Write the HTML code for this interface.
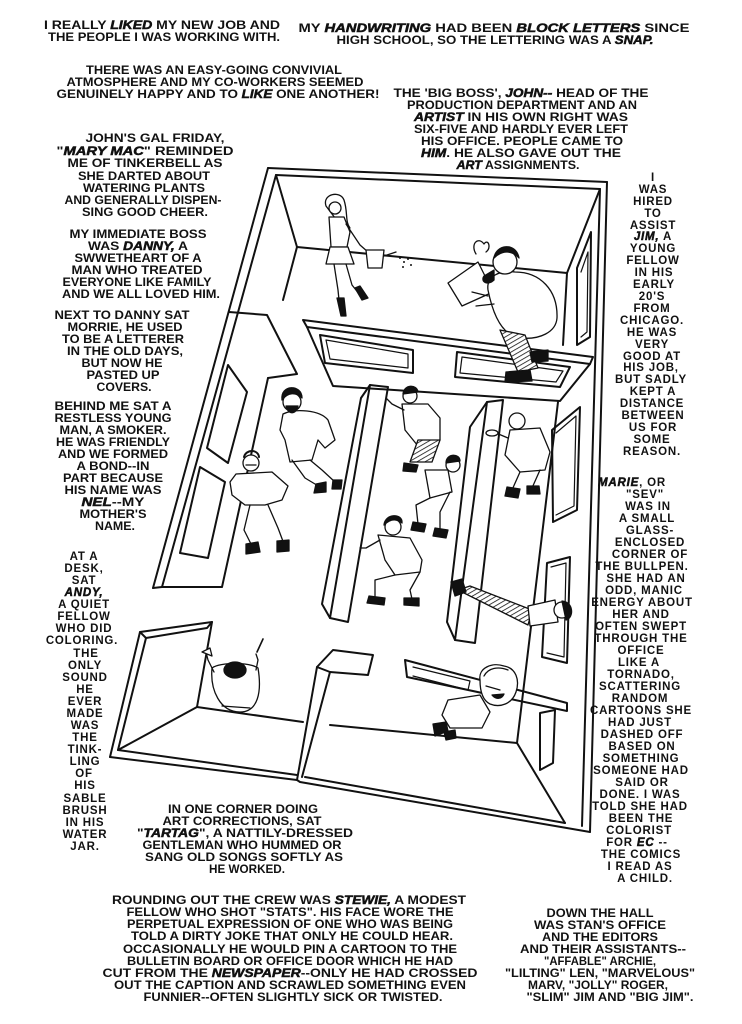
<!DOCTYPE html>
<html><head><meta charset="utf-8"><style>
html,body{margin:0;padding:0;background:#fff;}
svg{display:block;}
text{font-family:"Liberation Sans",Arial,sans-serif;font-weight:700;font-size:11.5px;fill:#111;}
.e{font-style:italic;font-weight:900;stroke:#111;stroke-width:.5;}
.c text{letter-spacing:0.8px;}
</style></head><body>
<svg xmlns="http://www.w3.org/2000/svg" width="742" height="1024" viewBox="0 0 742 1024">
<defs>
<pattern id="h" width="4" height="4" patternUnits="userSpaceOnUse" patternTransform="rotate(60)"><rect width="4" height="4" fill="#fff"/><line x1="0" y1="0" x2="0" y2="4" stroke="#111" stroke-width="1.6"/></pattern>
</defs>
<rect width="742" height="1024" fill="#fff"/>

<!-- WALLS -->
<g fill="none" stroke="#111" stroke-width="2" stroke-linejoin="round" stroke-linecap="round">
<path d="M268,168 L607,182"/>
<path d="M276,175 L600,189"/>
<path d="M268,168 L153,588"/>
<path d="M276,175 L162,587"/>
<path d="M229,312 L267,315 L297,374 L268,378"/>
<path d="M268,378 L222,587 L162,587"/>
<path d="M153,588 L162,587"/>
<path d="M228,365 L247,392 L228,463 L207,448 Z"/>
<path d="M200,467 L225,482 L208,558 L180,553 Z"/>
<path d="M276,175 L297,247"/>
<path d="M297,247 L283,300"/>
<path d="M297,247 L567,273"/>
<path d="M600,189 L567,273"/>
<path d="M607,182 L590,832"/>
<path d="M600,189 L582,826"/>
<path d="M567,273 L563,345"/>
<path d="M577,268 L591,232 L590,337 L577,345 Z"/>
<path d="M581,272 L588,252 L587,332 L581,337" stroke-width="1.2"/>
<path d="M303,320 L593,357 L590,364 L307,327 Z"/>
<path d="M307,327 L333,386 L560,401 L590,364"/>
<path d="M320,335 L413,350 L413,373 L325,363 Z"/>
<path d="M326,340 L408,354 L408,368 L330,359 Z" stroke-width="1.2"/>
<path d="M457,352 L570,367 L560,387 L455,377 Z"/>
<path d="M462,357 L563,371 L556,382 L460,373 Z" stroke-width="1.2"/>
<path d="M370,385 L388,387 L348,622 L330,618 Z"/>
<path d="M370,385 L361,398 L322,604 L330,618"/>
<path d="M487,402 L503,400 L475,643 L455,640 Z"/>
<path d="M487,402 L470,427 L447,622 L455,640"/>
<path d="M558,402 L517,743"/>
<path d="M552,430 L580,407 L577,510 L553,522 Z"/>
<path d="M556,433 L576,416 L574,506 L556,515" stroke-width="1.2"/>
<path d="M547,563 L570,557 L567,663 L542,657 Z"/>
<path d="M551,567 L566,563 L564,657 L547,653" stroke-width="1.2"/>
<path d="M405,660 L567,703 L567,711 L407,677 Z"/>
<path d="M413,667 L470,681 L468,690 L413,676" stroke-width="1.2"/>
<path d="M140,632 L212,622 L207,628 L146,638 Z"/>
<path d="M212,622 L197,707"/>
<path d="M140,632 L110,757"/>
<path d="M146,638 L118,750"/>
<path d="M197,707 L118,750"/>
<path d="M197,707 L303,722"/>
<path d="M110,757 L297,780 L300,782 L590,832"/>
<path d="M118,750 L297,775"/>
<path d="M305,777 L565,823"/>
<path d="M317,667 L333,650 L373,655 L368,675 L330,672 Z"/>
<path d="M317,667 L297,780"/>
<path d="M330,672 L302,777"/>
<path d="M330,725 L517,743"/>
<path d="M517,743 L565,823"/>
<path d="M540,713 L555,710 L553,763 L540,770 Z"/>
</g>

<!-- FIGURES -->
<g stroke="#111" stroke-width="1.3" stroke-linejoin="round" stroke-linecap="round" fill="none">
<!-- Mary Mac -->
<path d="M326,206 C322,194 340,190 344,200 C348,212 345,222 350,228 L338,222 Z" fill="#fff"/>
<circle cx="335" cy="208" r="6" fill="#fff"/>
<path d="M329,217 L344,217 L350,232 L347,247 L331,247 L330,232 Z" fill="#fff"/>
<path d="M330,247 L348,247 L354,264 L326,264 Z" fill="#fff"/>
<path d="M334,264 L338,290 L340,310 M346,264 L352,285 L360,295"/>
<path d="M337,298 L341,316 L346,316 L344,298 Z" fill="#111"/>
<path d="M355,288 L362,300 L368,298 L360,286 Z" fill="#111"/>
<path d="M346,224 L360,245 L368,252"/>
<path d="M366,250 L384,250 L382,268 L368,268 Z" fill="#fff"/>
<path d="M384,256 L396,252"/>
<g fill="#111" stroke="none"><circle cx="400" cy="258" r="1"/><circle cx="404" cy="262" r="1"/><circle cx="408" cy="259" r="1"/><circle cx="411" cy="265" r="1"/><circle cx="403" cy="267" r="1"/></g>
<!-- John -->
<path d="M476,254 C470,244 478,236 484,244 C488,238 492,248 486,252"/>
<path d="M448,283 L478,262 L493,292 L462,306 Z" fill="#fff"/>
<path d="M488,290 C486,276 500,270 515,272 C540,272 558,290 557,318 C556,332 540,340 520,338 C505,336 494,320 488,290 Z" fill="#fff"/>
<circle cx="505" cy="262" r="12" fill="#fff"/>
<path d="M494,258 C496,244 516,242 519,258 C512,250 502,250 494,258 Z" fill="#111"/>
<path d="M494,270 L484,276 C480,282 488,286 494,280 Z" fill="#111"/>
<path d="M488,296 L472,292 M494,304 L476,306"/>
<path d="M500,330 L525,335 L538,368 L518,372 Z" fill="url(#h)"/>
<path d="M506,372 L530,370 L532,381 L505,382 Z" fill="#111"/>
<path d="M530,352 L548,350 L548,361 L532,362 Z" fill="#111"/>
<!-- bearded man -->
<path d="M283,414 C295,408 320,410 328,420 L335,440 L325,448 L318,440 L312,460 L290,462 L285,440 L280,430 Z" fill="#fff"/>
<circle cx="292" cy="402" r="9" fill="#fff"/>
<path d="M282,400 C280,384 302,384 302,398 C296,392 288,392 282,400 Z" fill="#111"/>
<path d="M286,406 C288,415 296,415 298,406 Z" fill="#111"/>
<path d="M292,460 L305,478 L320,487 M310,460 L322,470 L335,482"/>
<path d="M316,484 L326,482 L326,492 L314,493 Z" fill="#111"/>
<path d="M333,480 L342,480 L341,489 L332,489 Z" fill="#111"/>
<!-- Morrie -->
<path d="M236,474 L272,472 L288,486 L282,500 L265,505 L245,505 L232,495 L230,482 Z" fill="#fff"/>
<circle cx="251" cy="463" r="8" fill="#fff"/>
<path d="M244,457 C246,449 258,449 259,457" stroke-width="2"/>
<path d="M246,465 L256,465"/>
<path d="M250,505 L244,530 L252,546 M268,505 L278,528 L284,544"/>
<path d="M246,544 L258,542 L260,552 L246,554 Z" fill="#111"/>
<path d="M277,541 L289,540 L289,551 L277,552 Z" fill="#111"/>
<!-- mid fig 1 -->
<path d="M402,404 L428,404 L440,418 L440,440 L418,446 L405,430 Z" fill="#fff"/>
<path d="M418,440 L440,440 L432,462 L410,462 Z" fill="url(#h)"/>
<circle cx="410" cy="396" r="7" fill="#fff"/>
<path d="M403,394 C404,384 417,384 418,392 Z" fill="#111"/>
<path d="M404,410 L392,404 L386,398"/>
<path d="M404,463 L418,465 L416,472 L403,471 Z" fill="#111"/>
<!-- mid fig 2 -->
<path d="M425,470 L448,470 L452,492 L430,498 Z" fill="#fff"/>
<circle cx="453" cy="465" r="7" fill="#fff"/>
<path d="M446,463 C446,453 460,453 460,461 Z" fill="#111"/>
<path d="M430,498 L416,505 L418,524 M450,492 L440,512 L440,529"/>
<path d="M413,522 L426,524 L424,532 L411,530 Z" fill="#111"/>
<path d="M435,528 L448,530 L446,538 L433,536 Z" fill="#111"/>
<!-- mid fig 3 -->
<path d="M378,535 L410,538 L422,560 L420,572 L395,575 L385,560 Z" fill="#fff"/>
<circle cx="393" cy="527" r="8" fill="#fff"/>
<path d="M384,525 C385,513 403,513 402,523 C396,518 390,519 384,525 Z" fill="#111"/>
<path d="M380,540 L366,548 L360,548"/>
<path d="M395,575 L375,580 L375,597 M420,572 L410,590 L412,599"/>
<path d="M369,596 L385,598 L384,605 L367,603 Z" fill="#111"/>
<path d="M404,598 L419,598 L419,606 L404,605 Z" fill="#111"/>
<!-- right room man -->
<path d="M510,430 L540,428 L550,452 L545,470 L520,472 L505,455 Z" fill="#fff"/>
<circle cx="517" cy="421" r="8" fill="#fff"/>
<path d="M508,438 L496,433"/>
<ellipse cx="492" cy="433" rx="6" ry="3" fill="#fff"/>
<path d="M520,472 L512,490 M540,470 L532,488"/>
<path d="M507,487 L520,489 L518,498 L505,496 Z" fill="#111"/>
<path d="M527,486 L539,486 L540,494 L527,494 Z" fill="#111"/>
<!-- lying figure -->
<path d="M458,590 L470,586 L532,610 L528,625 Z" fill="url(#h)"/>
<path d="M451,582 L462,579 L466,592 L455,596 Z" fill="#111"/>
<path d="M528,606 L555,600 L558,622 L530,626 Z" fill="#fff"/>
<circle cx="562" cy="610" r="8" fill="#fff"/>
<path d="M562,601 C574,602 574,618 566,620 Z" fill="#111"/>
<!-- Marie -->
<path d="M448,700 L480,695 L490,712 L482,728 L450,728 L442,715 Z" fill="#fff"/>
<path d="M480,680 C478,668 492,662 504,666 C516,668 520,680 516,692 C512,704 500,708 490,704 C482,700 480,690 480,680 Z" fill="#fff"/>
<path d="M484,676 C488,668 498,666 508,670 M486,686 L500,690" />
<path d="M492,695 C496,700 502,699 504,694 Z" fill="#111"/>
<path d="M433,724 L446,722 L448,731 L435,736 Z" fill="#111"/>
<path d="M444,732 L455,730 L456,738 L446,740 Z" fill="#111"/>
<!-- Tartag -->
<path d="M212,668 C210,690 220,712 240,712 C258,712 262,692 258,668 C250,662 220,662 212,668 Z" fill="#fff"/>
<ellipse cx="235" cy="670" rx="11" ry="8" fill="#111"/>
<path d="M214,672 L208,660 L206,652 M256,670 L258,660 L256,654"/>
<path d="M202,652 L210,648 L212,656 Z" fill="#fff"/>
<path d="M257,652 L263,639" stroke-width="1.6"/>
<path d="M222,706 L250,708" />
</g>

<!-- TEXT -->
<g text-anchor="middle">
<text x="162" y="29" textLength="236" lengthAdjust="spacingAndGlyphs">I REALLY <tspan class="e">LIKED</tspan> MY NEW JOB AND</text>
<text x="164" y="41" textLength="232" lengthAdjust="spacingAndGlyphs">THE PEOPLE I WAS WORKING WITH.</text>
<text x="494" y="32" textLength="391" lengthAdjust="spacingAndGlyphs">MY <tspan class="e">HANDWRITING</tspan> HAD BEEN <tspan class="e">BLOCK LETTERS</tspan> SINCE</text>
<text x="495" y="44" textLength="317" lengthAdjust="spacingAndGlyphs">HIGH SCHOOL, SO THE LETTERING WAS A <tspan class="e">SNAP.</tspan></text>

<text x="214" y="74" textLength="256" lengthAdjust="spacingAndGlyphs">THERE WAS AN EASY-GOING CONVIVIAL</text>
<text x="215" y="86" textLength="297" lengthAdjust="spacingAndGlyphs">ATMOSPHERE AND MY CO-WORKERS SEEMED</text>
<text x="218" y="98" textLength="323" lengthAdjust="spacingAndGlyphs">GENUINELY HAPPY AND TO <tspan class="e">LIKE</tspan> ONE ANOTHER!</text>

<text x="521" y="97" textLength="255" lengthAdjust="spacingAndGlyphs">THE 'BIG BOSS', <tspan class="e">JOHN--</tspan> HEAD OF THE</text>
<text x="522" y="109" textLength="230" lengthAdjust="spacingAndGlyphs">PRODUCTION DEPARTMENT AND AN</text>
<text x="521" y="121" textLength="214" lengthAdjust="spacingAndGlyphs"><tspan class="e">ARTIST</tspan> IN HIS OWN RIGHT WAS</text>
<text x="521" y="133" textLength="214" lengthAdjust="spacingAndGlyphs">SIX-FIVE AND HARDLY EVER LEFT</text>
<text x="522" y="145" textLength="202" lengthAdjust="spacingAndGlyphs">HIS OFFICE. PEOPLE CAME TO</text>
<text x="521" y="157" textLength="200" lengthAdjust="spacingAndGlyphs"><tspan class="e">HIM</tspan>. HE ALSO GAVE OUT THE</text>
<text x="518" y="169" textLength="123" lengthAdjust="spacingAndGlyphs"><tspan class="e">ART</tspan> ASSIGNMENTS.</text>

<text x="155" y="142" textLength="139" lengthAdjust="spacingAndGlyphs">JOHN'S GAL FRIDAY,</text>
<text x="145" y="155" textLength="177" lengthAdjust="spacingAndGlyphs">"<tspan class="e">MARY MAC</tspan>" REMINDED</text>
<text x="145" y="167" textLength="155" lengthAdjust="spacingAndGlyphs">ME OF TINKERBELL AS</text>
<text x="144" y="180" textLength="132" lengthAdjust="spacingAndGlyphs">SHE DARTED ABOUT</text>
<text x="144" y="192" textLength="122" lengthAdjust="spacingAndGlyphs">WATERING PLANTS</text>
<text x="143" y="204" textLength="157" lengthAdjust="spacingAndGlyphs">AND GENERALLY DISPEN-</text>
<text x="145" y="216" textLength="126" lengthAdjust="spacingAndGlyphs">SING GOOD CHEER.</text>

<text x="138" y="238" textLength="137" lengthAdjust="spacingAndGlyphs">MY IMMEDIATE BOSS</text>
<text x="138" y="250" textLength="100" lengthAdjust="spacingAndGlyphs">WAS <tspan class="e">DANNY,</tspan> A</text>
<text x="138" y="262" textLength="127" lengthAdjust="spacingAndGlyphs">SWWETHEART OF A</text>
<text x="137" y="274" textLength="131" lengthAdjust="spacingAndGlyphs">MAN WHO TREATED</text>
<text x="137" y="286" textLength="149" lengthAdjust="spacingAndGlyphs">EVERYONE LIKE FAMILY</text>
<text x="141" y="298" textLength="158" lengthAdjust="spacingAndGlyphs">AND WE ALL LOVED HIM.</text>

<text x="122" y="319" textLength="135" lengthAdjust="spacingAndGlyphs">NEXT TO DANNY SAT</text>
<text x="125" y="331" textLength="115" lengthAdjust="spacingAndGlyphs">MORRIE, HE USED</text>
<text x="123" y="343" textLength="122" lengthAdjust="spacingAndGlyphs">TO BE A LETTERER</text>
<text x="125" y="355" textLength="116" lengthAdjust="spacingAndGlyphs">IN THE OLD DAYS,</text>
<text x="122" y="367" textLength="81" lengthAdjust="spacingAndGlyphs">BUT NOW HE</text>
<text x="123" y="379" textLength="73" lengthAdjust="spacingAndGlyphs">PASTED UP</text>
<text x="124" y="391" textLength="55" lengthAdjust="spacingAndGlyphs">COVERS.</text>

<text x="113" y="410" textLength="117" lengthAdjust="spacingAndGlyphs">BEHIND ME SAT A</text>
<text x="113" y="422" textLength="117" lengthAdjust="spacingAndGlyphs">RESTLESS YOUNG</text>
<text x="113" y="434" textLength="107" lengthAdjust="spacingAndGlyphs">MAN, A SMOKER.</text>
<text x="113" y="446" textLength="114" lengthAdjust="spacingAndGlyphs">HE WAS FRIENDLY</text>
<text x="113" y="458" textLength="110" lengthAdjust="spacingAndGlyphs">AND WE FORMED</text>
<text x="113" y="470" textLength="73" lengthAdjust="spacingAndGlyphs">A BOND--IN</text>
<text x="113" y="482" textLength="100" lengthAdjust="spacingAndGlyphs">PART BECAUSE</text>
<text x="113" y="494" textLength="97" lengthAdjust="spacingAndGlyphs">HIS NAME WAS</text>
<text x="113" y="506" textLength="63" lengthAdjust="spacingAndGlyphs"><tspan class="e">NEL</tspan>--MY</text>
<text x="113" y="518" textLength="67" lengthAdjust="spacingAndGlyphs">MOTHER'S</text>
<text x="115" y="530" textLength="40" lengthAdjust="spacingAndGlyphs">NAME.</text>

<g class="c">
<text x="84" y="560">AT A</text>
<text x="84" y="572">DESK,</text>
<text x="84" y="584">SAT</text>
<text x="84" y="596"><tspan class="e">ANDY,</tspan></text>
<text x="84" y="608">A QUIET</text>
<text x="84" y="620">FELLOW</text>
<text x="84" y="632">WHO DID</text>
<text x="82" y="644">COLORING.</text>
<text x="86" y="657">THE</text>
<text x="85" y="669">ONLY</text>
<text x="85" y="681">SOUND</text>
<text x="85" y="693">HE</text>
<text x="85" y="705">EVER</text>
<text x="85" y="717">MADE</text>
<text x="85" y="729">WAS</text>
<text x="85" y="741">THE</text>
<text x="85" y="753">TINK-</text>
<text x="85" y="765">LING</text>
<text x="84" y="777">OF</text>
<text x="85" y="789">HIS</text>
<text x="85" y="802">SABLE</text>
<text x="85" y="814">BRUSH</text>
<text x="85" y="826">IN HIS</text>
<text x="85" y="838">WATER</text>
<text x="85" y="850">JAR.</text>

<text x="653" y="181">I</text>
<text x="653" y="193">WAS</text>
<text x="653" y="205">HIRED</text>
<text x="653" y="217">TO</text>
<text x="653" y="229">ASSIST</text>
<text x="653" y="240"><tspan class="e">JIM,</tspan> A</text>
<text x="653" y="252">YOUNG</text>
<text x="653" y="264">FELLOW</text>
<text x="654" y="276">IN HIS</text>
<text x="654" y="288">EARLY</text>
<text x="652" y="300">20'S</text>
<text x="652" y="312">FROM</text>
<text x="652" y="324">CHICAGO.</text>
<text x="652" y="336">HE WAS</text>
<text x="652" y="348">VERY</text>
<text x="652" y="360">GOOD AT</text>
<text x="651" y="371">HIS JOB,</text>
<text x="651" y="383">BUT SADLY</text>
<text x="653" y="395">KEPT A</text>
<text x="652" y="407">DISTANCE</text>
<text x="653" y="419">BETWEEN</text>
<text x="653" y="431">US FOR</text>
<text x="652" y="443">SOME</text>
<text x="652" y="455">REASON.</text>

<text x="632" y="486"><tspan class="e">MARIE</tspan>, OR</text>
<text x="645" y="498">"SEV"</text>
<text x="648" y="510">WAS IN</text>
<text x="647" y="522">A SMALL</text>
<text x="650" y="534">GLASS-</text>
<text x="650" y="546">ENCLOSED</text>
<text x="650" y="558">CORNER OF</text>
<text x="642" y="570">THE BULLPEN.</text>
<text x="646" y="582">SHE HAD AN</text>
<text x="644" y="594">ODD, MANIC</text>
<text x="642" y="606">ENERGY ABOUT</text>
<text x="641" y="618">HER AND</text>
<text x="641" y="630">OFTEN SWEPT</text>
<text x="641" y="642">THROUGH THE</text>
<text x="641" y="654">OFFICE</text>
<text x="639" y="666">LIKE A</text>
<text x="641" y="678">TORNADO,</text>
<text x="640" y="690">SCATTERING</text>
<text x="640" y="702">RANDOM</text>
<text x="641" y="714">CARTOONS SHE</text>
<text x="640" y="726">HAD JUST</text>
<text x="642" y="738">DASHED OFF</text>
<text x="642" y="750">BASED ON</text>
<text x="641" y="762">SOMETHING</text>
<text x="641" y="774">SOMEONE HAD</text>
<text x="642" y="786">SAID OR</text>
<text x="640" y="798">DONE. I WAS</text>
<text x="640" y="810">TOLD SHE HAD</text>
<text x="641" y="822">BEEN THE</text>
<text x="639" y="834">COLORIST</text>
<text x="637" y="846">FOR <tspan class="e">EC</tspan> --</text>
<text x="641" y="858">THE COMICS</text>
<text x="640" y="870">I READ AS</text>
<text x="645" y="882">A CHILD.</text>
</g>

<text x="243" y="813" textLength="150" lengthAdjust="spacingAndGlyphs">IN ONE CORNER DOING</text>
<text x="242" y="825" textLength="159" lengthAdjust="spacingAndGlyphs">ART CORRECTIONS, SAT</text>
<text x="245" y="837" textLength="216" lengthAdjust="spacingAndGlyphs">"<tspan class="e">TARTAG</tspan>", A NATTILY-DRESSED</text>
<text x="242" y="849" textLength="199" lengthAdjust="spacingAndGlyphs">GENTLEMAN WHO HUMMED OR</text>
<text x="244" y="861" textLength="198" lengthAdjust="spacingAndGlyphs">SANG OLD SONGS SOFTLY AS</text>
<text x="247" y="873" textLength="76" lengthAdjust="spacingAndGlyphs">HE WORKED.</text>

<text x="289" y="904" textLength="354" lengthAdjust="spacingAndGlyphs">ROUNDING OUT THE CREW WAS <tspan class="e">STEWIE,</tspan> A MODEST</text>
<text x="290" y="916" textLength="327" lengthAdjust="spacingAndGlyphs">FELLOW WHO SHOT "STATS". HIS FACE WORE THE</text>
<text x="290" y="928" textLength="326" lengthAdjust="spacingAndGlyphs">PERPETUAL EXPRESSION OF ONE WHO WAS BEING</text>
<text x="292" y="940" textLength="322" lengthAdjust="spacingAndGlyphs">TOLD A DIRTY JOKE THAT ONLY HE COULD HEAR.</text>
<text x="290" y="953" textLength="334" lengthAdjust="spacingAndGlyphs">OCCASIONALLY HE WOULD PIN A CARTOON TO THE</text>
<text x="290" y="965" textLength="326" lengthAdjust="spacingAndGlyphs">BULLETIN BOARD OR OFFICE DOOR WHICH HE HAD</text>
<text x="290" y="977" textLength="375" lengthAdjust="spacingAndGlyphs">CUT FROM THE  <tspan class="e">NEWSPAPER</tspan>--ONLY HE HAD CROSSED</text>
<text x="290" y="989" textLength="352" lengthAdjust="spacingAndGlyphs">OUT THE CAPTION AND SCRAWLED SOMETHING EVEN</text>
<text x="293" y="1001" textLength="299" lengthAdjust="spacingAndGlyphs">FUNNIER--OFTEN SLIGHTLY SICK OR TWISTED.</text>

<text x="600" y="917" textLength="107" lengthAdjust="spacingAndGlyphs">DOWN THE HALL</text>
<text x="600" y="929" textLength="132" lengthAdjust="spacingAndGlyphs">WAS STAN'S OFFICE</text>
<text x="600" y="941" textLength="116" lengthAdjust="spacingAndGlyphs">AND THE EDITORS</text>
<text x="603" y="953" textLength="166" lengthAdjust="spacingAndGlyphs">AND THEIR ASSISTANTS--</text>
<text x="600" y="965" textLength="112" lengthAdjust="spacingAndGlyphs">"AFFABLE" ARCHIE,</text>
<text x="600" y="977" textLength="190" lengthAdjust="spacingAndGlyphs">"LILTING" LEN, "MARVELOUS"</text>
<text x="598" y="989" textLength="140" lengthAdjust="spacingAndGlyphs">MARV, "JOLLY" ROGER,</text>
<text x="610" y="1001" textLength="167" lengthAdjust="spacingAndGlyphs">"SLIM" JIM AND "BIG JIM".</text>
</g>
</svg>
</body></html>
